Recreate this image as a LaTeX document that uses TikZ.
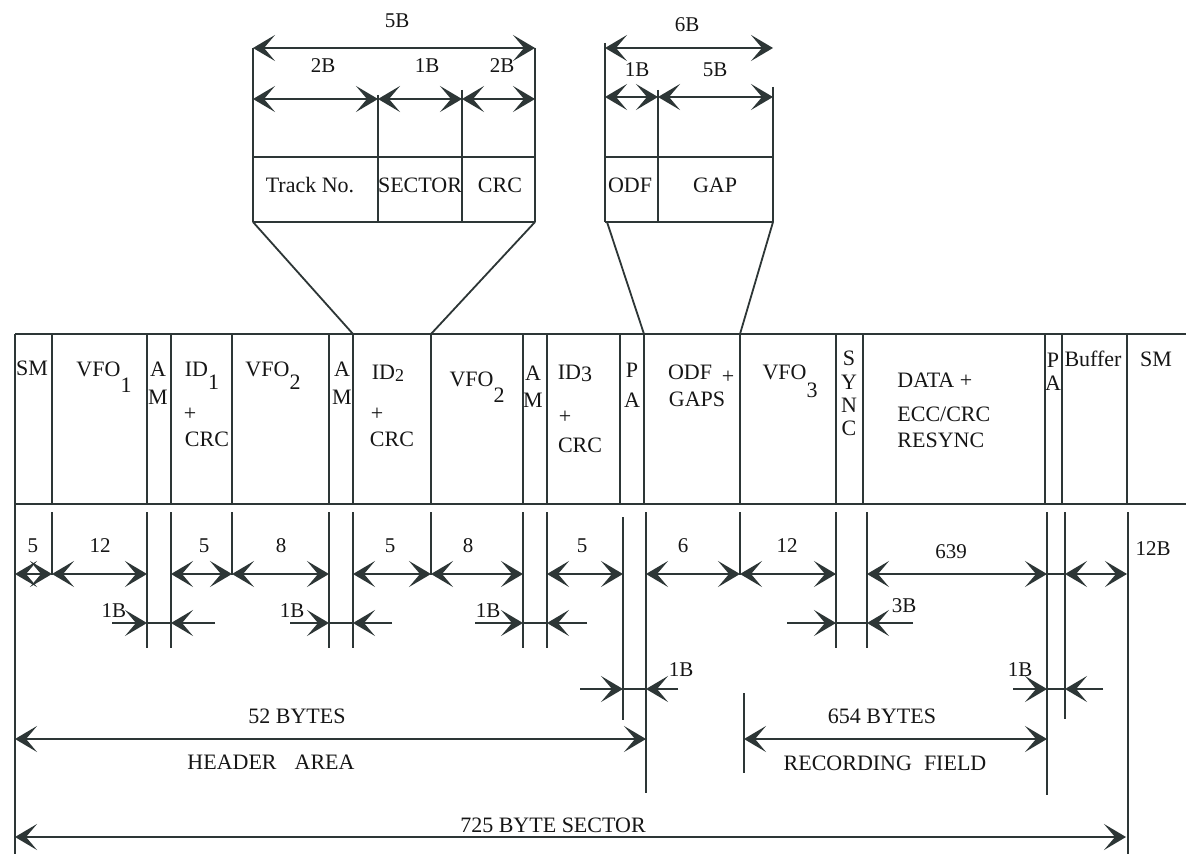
\documentclass[tikz,border=0pt]{standalone}
\usepackage{fontspec}
\setmainfont{Liberation Serif}
\usetikzlibrary{arrows.meta}
\definecolor{ink}{RGB}{45,54,54}
\definecolor{txt}{RGB}{22,22,22}
\begin{document}
\begin{tikzpicture}[x=0.5pt,y=-0.5pt,
  >={Stealth[length=11pt,width=13pt,inset=5.5pt]},
  ln/.style={draw=ink,line width=0.9pt},
  dim/.style={ln,<->},
  tipr/.style={ln,->},
  lab/.style={font=\fontsize{11}{13}\selectfont,inner sep=0pt,text=txt,anchor=base},
  labc/.style={lab,anchor=center},
  dl/.style={lab,font=\fontsize{10.5}{12}\selectfont}]
\useasboundingbox (0,0) rectangle (1186,854);
\fill[white] (0,0) rectangle (1186,854);

% ---------- top detail box: ID field ----------
\draw[ln] (253,48) -- (253,222);
\draw[ln] (535,48) -- (535,222);
\draw[ln] (378,95) -- (378,222);
\draw[ln] (462,90) -- (462,222);
\draw[ln] (253,157) -- (535,157);
\draw[ln] (253,222) -- (535,222);
\draw[dim] (253,48) -- (535,48);
\draw[dim] (253,99) -- (378,99);
\draw[dim] (378,99) -- (462,99);
\draw[dim] (462,99) -- (535,99);
\draw[ln] (253,222) -- (353,334);
\draw[ln] (535,222) -- (431,334);
\node[dl] (t5b) at (397,28) {5B};
\node[dl] (t2ba) at (323,73) {2B};
\node[dl] (t1b) at (427,73) {1B};
\node[dl] (t2bb) at (502,73) {2B};
\node[lab] (trk) at (310,193) {Track No.};
\node[lab] (sec) at (420,193) {SECTOR};
\node[lab] (crc) at (500,193) {CRC};

% ---------- top detail box: ODF + GAP ----------
\draw[ln] (605,43) -- (605,222);
\draw[ln] (773,87) -- (773,222);
\draw[ln] (658,90) -- (658,222);
\draw[ln] (605,157) -- (773,157);
\draw[ln] (605,222) -- (773,222);
\draw[dim] (605,48) -- (773,48);
\draw[dim] (605,97) -- (658,97);
\draw[dim] (658,97) -- (773,97);
\draw[ln] (607,222) -- (644,334);
\draw[ln] (773,222) -- (740,334);
\node[dl] (t6b) at (687,32) {6B};
\node[dl] (t1bo) at (637,77) {1B};
\node[dl] (t5bg) at (715,77) {5B};
\node[lab] (odf) at (630,193) {ODF};
\node[lab] (gap) at (715,193) {GAP};

% ---------- main band ----------
\draw[ln] (15,334) -- (1186,334);
\draw[ln] (15,504) -- (1186,504);
\draw[ln] (15,334) -- (15,854);
\foreach \x in {52,147,171,232,329,353,431,523,547,620,644,740,836,863,1045,1062,1127}
  \draw[ln] (\x,334) -- (\x,504);

\node[lab] (sm1) at (32,376) {SM};
\node[lab] (vfo1) at (104,377) {VFO\raisebox{-8pt}{1}};
\node[labc] (am1a) at (158,369) {A};
\node[labc] (am1m) at (158,397) {M};
\node[lab] (id1) at (202,377) {ID\raisebox{-6.5pt}{1}};
\node[labc] (id1p) at (190,414) {+};
\node[lab] (id1c) at (207,447) {CRC};
\node[lab] (vfo2) at (273,377) {VFO\raisebox{-6.5pt}{2}};
\node[labc] (am2a) at (342,369) {A};
\node[labc] (am2m) at (342,397) {M};
\node[lab] (id2) at (388,380) {ID\raisebox{-1pt}{\fontsize{9}{9}\selectfont 2}};
\node[labc] (id2p) at (377,414) {+};
\node[lab] (id2c) at (392,447) {CRC};
\node[lab] (vfo2b) at (477,387) {VFO\raisebox{-8pt}{2}};
\node[labc] (am3a) at (533,373) {A};
\node[labc] (am3m) at (533,400) {M};
\node[lab] (id3) at (575,380) {ID\raisebox{-1pt}{3}};
\node[labc] (id3p) at (565,417) {+};
\node[lab] (id3c) at (580,452) {CRC};
\node[labc] (pa1p) at (632,370) {P};
\node[labc] (pa1a) at (632,400) {A};
\node[lab] (odfg) at (690,380) {ODF};
\node[labc] (odfp) at (728,377) {+};
\node[lab] (gaps) at (697,407) {GAPS};
\node[lab] (vfo3) at (790,380) {VFO\raisebox{-9pt}{3}};
\node[labc] (sy1) at (849,358) {S};
\node[labc] (sy2) at (849,382) {Y};
\node[labc] (sy3) at (849,405) {N};
\node[labc] (sy4) at (849,428) {C};
\node[lab,anchor=base west] (data) at (897,388) {DATA +};
\node[lab,anchor=base west] (ecc) at (897,422) {ECC/CRC};
\node[lab,anchor=base west] (resync) at (897,448) {RESYNC};
\node[labc] (pa2p) at (1053,360) {P};
\node[labc] (pa2a) at (1053,383) {A};
\node[lab] (buf) at (1093,367) {Buffer};
\node[lab] (sm2) at (1156,367) {SM};

% ---------- extension lines ----------
\foreach \x in {52,232,431,740} \draw[ln] (\x,512) -- (\x,575);
\foreach \x in {147,171,329,353,523,547,836,867} \draw[ln] (\x,512) -- (\x,648);
\draw[ln] (623,517) -- (623,720);
\draw[ln] (646,512) -- (646,793);
\draw[ln] (744,693) -- (744,773);
\draw[ln] (1047,512) -- (1047,795);
\draw[ln] (1065,512) -- (1065,719);
\draw[ln] (1128,512) -- (1128,854);

% ---------- row 1 ----------
\foreach \a/\b in {15/52,52/147,171/232,232/329,353/431,431/523,547/623,646/740,740/836,867/1047,1065/1127}
  \draw[dim] (\a,574) -- (\b,574);
\draw[ln] (1047,574) -- (1065,574);
\node[dl] (d5a) at (33,552) {5};
\node[dl] (d12a) at (100,552) {12};
\node[dl] (d5b) at (204,552) {5};
\node[dl] (d8a) at (281,552) {8};
\node[dl] (d5c) at (390,552) {5};
\node[dl] (d8b) at (468,552) {8};
\node[dl] (d5d) at (582,552) {5};
\node[dl] (d6) at (683,552) {6};
\node[dl] (d12b) at (787,552) {12};
\node[dl] (d639) at (951,558) {639};
\node[dl] (d12B) at (1153,555) {12B};

% ---------- row 2 ----------
\foreach \l/\a/\b/\r in {112/147/171/215,290/329/353/392,475/523/547/587,787/836/867/913}{
  \draw[tipr] (\l,623) -- (\a,623);
  \draw[ln] (\a,623) -- (\b,623);
  \draw[tipr] (\r,623) -- (\b,623);
}
\node[dl] (r2a) at (114,617) {1B};
\node[dl] (r2b) at (292,617) {1B};
\node[dl] (r2c) at (488,617) {1B};
\node[dl] (r2d) at (904,612) {3B};

% ---------- row 3 ----------
\foreach \l/\a/\b/\r in {580/623/646/678,1013/1047/1065/1103}{
  \draw[tipr] (\l,689) -- (\a,689);
  \draw[ln] (\a,689) -- (\b,689);
  \draw[tipr] (\r,689) -- (\b,689);
}
\node[dl] (r3a) at (681,676) {1B};
\node[dl] (r3b) at (1020,676) {1B};

% ---------- totals ----------
\draw[dim] (15,739) -- (646,739);
\node[lab] (b52) at (297,723) {52 BYTES};
\node[lab] (hdr) at (271,769) {HEADER\hspace{9pt}AREA};
\draw[dim] (744,739) -- (1047,739);
\node[lab] (b654) at (882,723) {654 BYTES};
\node[lab] (rec) at (885,770) {RECORDING\hspace{6pt}FIELD};
\draw[dim] (15,837) -- (1126,837);
\node[lab] (b725) at (553,832) {725 BYTE SECTOR};
\end{tikzpicture}
\end{document}
